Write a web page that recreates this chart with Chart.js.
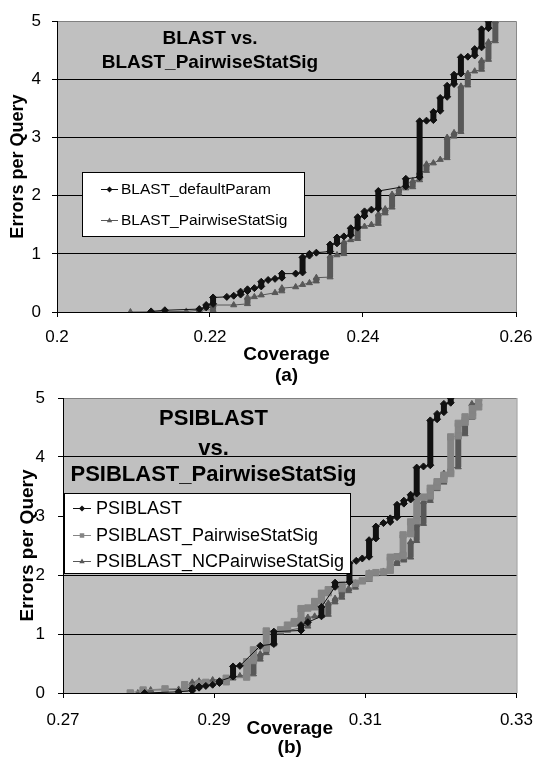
<!DOCTYPE html>
<html>
<head>
<meta charset="utf-8">
<script src="https://cdn.jsdelivr.net/npm/chart.js@4.4.1/dist/chart.umd.min.js"></script>
<style>
  body { margin: 0; background: #fff; width: 545px; height: 764px; overflow: hidden; position: relative; }
  canvas { position: absolute; left: 0; }
  #chartA { top: 0; }
  #chartB { top: 372px; }
</style>
</head>
<body>
<canvas id="chartA" width="545" height="392"></canvas>
<canvas id="chartB" width="545" height="392"></canvas>
<script>
// ---- data: [coverage, errors per query] ----
var blastDefault = [
  [0.2123, 0.01], [0.2141, 0.03], [0.2186, 0.05], [0.2195, 0.08], [0.2195, 0.12],
  [0.2204, 0.14], [0.2204, 0.25], [0.2222, 0.26], [0.2231, 0.28], [0.2240, 0.30],
  [0.2240, 0.35], [0.2249, 0.36], [0.2249, 0.39], [0.2258, 0.41], [0.2267, 0.44],
  [0.2267, 0.52], [0.2276, 0.55], [0.2285, 0.57], [0.2294, 0.59], [0.2294, 0.66],
  [0.2312, 0.66], [0.2321, 0.68], [0.2321, 0.94], [0.2330, 0.97], [0.2330, 1.00],
  [0.2339, 1.02], [0.2357, 1.04], [0.2357, 1.16], [0.2366, 1.18], [0.2366, 1.28],
  [0.2375, 1.30], [0.2384, 1.32], [0.2384, 1.44], [0.2393, 1.45], [0.2393, 1.63],
  [0.2402, 1.65], [0.2402, 1.73], [0.2411, 1.76], [0.2420, 1.78], [0.2420, 2.08],
  [0.2456, 2.16], [0.2456, 2.29], [0.2474, 2.32], [0.2474, 3.28], [0.2483, 3.29],
  [0.2492, 3.30], [0.2492, 3.44], [0.2501, 3.46], [0.2501, 3.68], [0.2510, 3.70],
  [0.2510, 3.89], [0.2519, 3.92], [0.2519, 4.08], [0.2528, 4.10], [0.2528, 4.38],
  [0.2537, 4.39], [0.2546, 4.41], [0.2546, 4.52], [0.2555, 4.55], [0.2555, 4.86],
  [0.2564, 4.88], [0.2564, 5.00]
];
var blastPairwise = [
  [0.2096, 0.00], [0.2169, 0.01], [0.2186, 0.03], [0.2204, 0.04], [0.2204, 0.12],
  [0.2231, 0.12], [0.2249, 0.14], [0.2249, 0.25], [0.2258, 0.26], [0.2267, 0.29],
  [0.2285, 0.33], [0.2294, 0.36], [0.2294, 0.41], [0.2312, 0.43], [0.2321, 0.47],
  [0.2330, 0.50], [0.2339, 0.53], [0.2339, 0.59], [0.2357, 0.60], [0.2357, 0.96],
  [0.2366, 0.98], [0.2375, 1.00], [0.2375, 1.20], [0.2384, 1.24], [0.2393, 1.26],
  [0.2393, 1.47], [0.2402, 1.47], [0.2411, 1.50], [0.2420, 1.52], [0.2420, 1.68],
  [0.2429, 1.70], [0.2429, 1.77], [0.2438, 1.80], [0.2438, 2.02], [0.2447, 2.04],
  [0.2447, 2.11], [0.2456, 2.13], [0.2465, 2.15], [0.2465, 2.25], [0.2474, 2.27],
  [0.2474, 2.40], [0.2483, 2.43], [0.2483, 2.54], [0.2492, 2.56], [0.2501, 2.62],
  [0.2510, 2.65], [0.2510, 3.00], [0.2519, 3.02], [0.2519, 3.08], [0.2528, 3.10],
  [0.2528, 3.88], [0.2537, 3.90], [0.2537, 4.10], [0.2546, 4.14], [0.2555, 4.17],
  [0.2555, 4.32], [0.2564, 4.34], [0.2564, 4.64], [0.2573, 4.66], [0.2573, 5.00]
];
var psiblast = [
  [0.2808, 0.00], [0.2853, 0.02], [0.2871, 0.04], [0.2871, 0.08], [0.2880, 0.09],
  [0.2880, 0.11], [0.2889, 0.12], [0.2898, 0.14], [0.2907, 0.17], [0.2907, 0.20],
  [0.2925, 0.28], [0.2925, 0.45], [0.2934, 0.46], [0.2961, 0.80], [0.2979, 0.83],
  [0.2979, 1.04], [0.3015, 1.06], [0.3015, 1.15], [0.3024, 1.20], [0.3042, 1.30],
  [0.3042, 1.46], [0.3060, 1.80], [0.3060, 1.87], [0.3079, 1.88], [0.3079, 2.20],
  [0.3088, 2.24], [0.3096, 2.28], [0.3105, 2.31], [0.3105, 2.59], [0.3114, 2.62],
  [0.3114, 2.82], [0.3124, 2.88], [0.3133, 2.90], [0.3133, 2.96], [0.3142, 2.98],
  [0.3142, 3.19], [0.3151, 3.21], [0.3151, 3.26], [0.3160, 3.28], [0.3160, 3.36],
  [0.3168, 3.38], [0.3168, 3.82], [0.3177, 3.84], [0.3186, 3.86], [0.3186, 4.62],
  [0.3195, 4.64], [0.3195, 4.73], [0.3204, 4.76], [0.3204, 4.90], [0.3213, 4.92],
  [0.3213, 5.00]
];
var psiPairwise = [
  [0.2789, 0.00], [0.2806, 0.05], [0.2835, 0.07], [0.2861, 0.08], [0.2861, 0.14],
  [0.2880, 0.16], [0.2889, 0.18], [0.2916, 0.19], [0.2916, 0.25], [0.2943, 0.27],
  [0.2943, 0.53], [0.2952, 0.55], [0.2952, 0.73], [0.2969, 0.76], [0.2969, 1.05],
  [0.2988, 1.07], [0.2997, 1.09], [0.2997, 1.15], [0.3006, 1.18], [0.3006, 1.21],
  [0.3015, 1.23], [0.3015, 1.43], [0.3024, 1.44], [0.3033, 1.46], [0.3033, 1.55],
  [0.3042, 1.57], [0.3042, 1.69], [0.3051, 1.70], [0.3051, 1.75], [0.3069, 1.77],
  [0.3069, 1.83], [0.3087, 1.86], [0.3096, 1.90], [0.3105, 1.95], [0.3105, 2.02],
  [0.3114, 2.04], [0.3124, 2.05], [0.3133, 2.08], [0.3133, 2.30], [0.3142, 2.31],
  [0.3150, 2.33], [0.3150, 2.68], [0.3160, 2.70], [0.3160, 2.90], [0.3168, 2.92],
  [0.3168, 3.31], [0.3177, 3.32], [0.3186, 3.34], [0.3186, 3.47], [0.3195, 3.50],
  [0.3195, 3.58], [0.3204, 3.62], [0.3204, 3.69], [0.3213, 3.72], [0.3213, 4.34],
  [0.3223, 4.36], [0.3223, 4.57], [0.3232, 4.59], [0.3232, 4.68], [0.3242, 4.70],
  [0.3242, 4.82], [0.3250, 4.85], [0.3250, 5.00]
];
var psiNCPairwise = [
  [0.2799, 0.00], [0.2816, 0.05], [0.2853, 0.06], [0.2871, 0.08], [0.2871, 0.18],
  [0.2880, 0.20], [0.2898, 0.22], [0.2925, 0.25], [0.2934, 0.29], [0.2943, 0.30],
  [0.2952, 0.32], [0.2952, 0.55], [0.2961, 0.57], [0.2961, 0.66], [0.2969, 0.68],
  [0.2969, 0.81], [0.2979, 0.83], [0.2979, 1.02], [0.2988, 1.03], [0.2997, 1.06],
  [0.3015, 1.10], [0.3024, 1.13], [0.3024, 1.28], [0.3033, 1.30], [0.3042, 1.31],
  [0.3051, 1.33], [0.3051, 1.52], [0.3060, 1.54], [0.3060, 1.60], [0.3069, 1.62],
  [0.3069, 1.72], [0.3078, 1.73], [0.3078, 1.77], [0.3087, 1.79], [0.3087, 1.86],
  [0.3096, 1.89], [0.3105, 1.92], [0.3105, 2.03], [0.3124, 2.06], [0.3133, 2.08],
  [0.3133, 2.17], [0.3142, 2.19], [0.3142, 2.23], [0.3151, 2.25], [0.3151, 2.28],
  [0.3160, 2.30], [0.3160, 2.56], [0.3168, 2.58], [0.3168, 2.85], [0.3177, 2.87],
  [0.3177, 3.24], [0.3186, 3.26], [0.3186, 3.44], [0.3195, 3.46], [0.3195, 3.55],
  [0.3204, 3.57], [0.3204, 3.72], [0.3213, 3.74], [0.3213, 3.81], [0.3223, 3.83],
  [0.3223, 4.37], [0.3232, 4.39], [0.3232, 4.65], [0.3241, 4.67], [0.3241, 4.90],
  [0.3250, 4.92], [0.3250, 5.00]
];

var namesA = ['BLAST_defaultParam', 'BLAST_PairwiseStatSig'];
var namesB = ['PSIBLAST', 'PSIBLAST_PairwiseStatSig', 'PSIBLAST_NCPairwiseStatSig'];
var titleLinesA = ['BLAST vs.', 'BLAST_PairwiseStatSig'];
var titleLinesB = ['PSIBLAST', 'vs.', 'PSIBLAST_PairwiseStatSig'];
var xTicksA = [0.2, 0.22, 0.24, 0.26];
var xLabelsA = ['0.2', '0.22', '0.24', '0.26'];
var xTicksB = [0.27, 0.29, 0.31, 0.33];
var xLabelsB = ['0.27', '0.29', '0.31', '0.33'];
var yTicks = [0, 1, 2, 3, 4, 5];
var yLabels = ['0', '1', '2', '3', '4', '5'];

var FONT = '"Liberation Sans", Arial, Helvetica, sans-serif';
Chart.defaults.font.family = FONT;
Chart.defaults.color = '#000';

function toPoints(pairs) {
  var pts = [];
  for (var i = 0; i < pairs.length; i++) {
    pts.push({ x: pairs[i][0], y: pairs[i][1] });
  }
  return pts;
}

// a run of points at the same coverage is drawn as a thick column
function barWidth(w) {
  return function (ctx) {
    return ctx.p0.parsed.x === ctx.p1.parsed.x ? w : 1;
  };
}

function series(label, pairs, color, style, radius, thick) {
  return {
    label: label,
    data: toPoints(pairs),
    borderColor: color,
    backgroundColor: color,
    borderWidth: 1,
    pointStyle: style,
    pointRadius: radius,
    pointHoverRadius: radius,
    pointBorderWidth: 1,
    pointBackgroundColor: color,
    pointBorderColor: color,
    tension: 0,
    fill: false,
    segment: { borderWidth: barWidth(thick) }
  };
}

function drawMarker(ctx, style, x, y, r) {
  ctx.beginPath();
  if (style === 'rectRot') {
    ctx.moveTo(x, y - r); ctx.lineTo(x + r, y); ctx.lineTo(x, y + r); ctx.lineTo(x - r, y);
  } else if (style === 'rect') {
    var s = r * 0.75;
    ctx.rect(x - s, y - s, 2 * s, 2 * s);
  } else {
    ctx.moveTo(x, y - r); ctx.lineTo(x + r * 0.9, y + r * 0.55); ctx.lineTo(x - r * 0.9, y + r * 0.55);
  }
  ctx.closePath();
  ctx.fill();
}

var plotDecor = {
  id: 'plotDecor',
  beforeDraw: function (chart) {
    var a = chart.chartArea, ctx = chart.ctx;
    ctx.save();
    ctx.fillStyle = '#c0c0c0';
    ctx.fillRect(a.left, a.top, a.right - a.left, a.bottom - a.top);
    ctx.strokeStyle = '#8a8a8a';
    ctx.lineWidth = 1;
    ctx.beginPath();
    ctx.moveTo(a.right + 0.5, a.top);
    ctx.lineTo(a.right + 0.5, a.bottom);
    ctx.stroke();
    ctx.restore();
  },
  afterDraw: function (chart, args, o) {
    var ctx = chart.ctx;
    ctx.save();
    // title lines inside the plot
    ctx.fillStyle = '#000';
    ctx.textAlign = 'center';
    ctx.textBaseline = 'middle';
    ctx.font = 'bold ' + o.titleSize + 'px ' + FONT;
    for (var i = 0; i < o.titleLines.length; i++) {
      ctx.fillText(o.titleLines[i], o.titleX, o.titleY[i]);
    }
    // legend box
    var b = o.legend;
    ctx.fillStyle = '#fff';
    ctx.fillRect(b.x, b.y, b.w, b.h);
    ctx.strokeStyle = '#000';
    ctx.lineWidth = 1;
    ctx.strokeRect(b.x + 0.5, b.y + 0.5, b.w, b.h);
    ctx.font = b.size + 'px ' + FONT;
    ctx.textAlign = 'left';
    chart.data.datasets.forEach(function (ds, k) {
      var y = b.rows[k];
      ctx.strokeStyle = ds.borderColor;
      ctx.beginPath();
      ctx.moveTo(b.lineX0, y + 0.5);
      ctx.lineTo(b.lineX1, y + 0.5);
      ctx.stroke();
      ctx.fillStyle = ds.borderColor;
      drawMarker(ctx, ds.pointStyle, (b.lineX0 + b.lineX1) / 2, y + 0.5, 3);
      ctx.fillStyle = '#000';
      ctx.fillText(ds.label, b.textX, y + 1);
    });
    ctx.restore();
  }
};

function chartOptions(o) {
  return {
    responsive: false,
    animation: false,
    layout: { padding: { left: 0, top: o.top, right: o.right, bottom: 0 } },
    plugins: {
      legend: { display: false },
      tooltip: { enabled: false },
      plotDecor: o.decor
    },
    scales: {
      x: {
        type: 'linear',
        min: o.xTicks[0],
        max: o.xTicks[o.xTicks.length - 1],
        afterBuildTicks: function (scale) {
          scale.ticks = o.xTicks.map(function (v) { return { value: v }; });
        },
        afterFit: function (scale) { scale.height = o.xAxisHeight; },
        grid: { drawOnChartArea: false, color: '#000', tickLength: 5 },
        border: { color: '#000', width: 1 },
        ticks: {
          padding: o.xPad, font: { size: 17 }, color: '#000', maxRotation: 0, autoSkip: false,
          callback: function (v, i) { return o.xLabels[i]; }
        },
        title: {
          display: true, text: o.xTitle, color: '#000',
          font: { size: 19, weight: 'bold', lineHeight: o.xTitleLH },
          padding: { top: 0, bottom: o.xTitlePad }
        }
      },
      y: {
        min: 0,
        max: 5,
        afterBuildTicks: function (scale) {
          scale.ticks = yTicks.map(function (v) { return { value: v }; });
        },
        afterFit: function (scale) { scale.width = o.yAxisWidth; },
        grid: {
          color: function (c) { return c.tick && c.tick.value === 5 ? '#808080' : '#000'; },
          tickColor: '#000', tickLength: 5, lineWidth: 1
        },
        border: { color: '#000', width: 1 },
        ticks: {
          padding: o.yPad, font: { size: 17 }, color: '#000',
          callback: function (v, i) { return yLabels[i]; }
        },
        title: {
          display: true, text: 'Errors per Query', color: '#000',
          font: { size: o.yTitleSize, weight: 'bold', lineHeight: 1.2 },
          padding: { top: o.yTitlePad, bottom: 0 }
        }
      }
    }
  };
}

var chartA = new Chart(document.getElementById('chartA'), {
  type: 'line',
  data: {
    datasets: [
      series(namesA[0], blastDefault, '#111111', 'rectRot', 3.5, 6),
      series(namesA[1], blastPairwise, '#585858', 'triangle', 3.5, 6)
    ]
  },
  options: chartOptions({
    top: 19, right: 29, xAxisHeight: 80, yAxisWidth: 57,
    xTicks: xTicksA, xLabels: xLabelsA, xPad: 10, yPad: 11,
    xTitle: ['Coverage', '(a)'], xTitleLH: 1.1, xTitlePad: 5.5,
    yTitleSize: 18, yTitlePad: 7,
    decor: {
      titleLines: titleLinesA, titleSize: 19, titleX: 210, titleY: [39, 63],
      legend: { x: 82, y: 172, w: 222, h: 64, rows: [189, 220], lineX0: 101, lineX1: 118, textX: 121, size: 15.5 }
    }
  }),
  plugins: [plotDecor]
});

var chartB = new Chart(document.getElementById('chartB'), {
  type: 'line',
  data: {
    datasets: [
      series(namesB[0], psiblast, '#111111', 'rectRot', 3.5, 6),
      series(namesB[1], psiPairwise, '#858585', 'rect', 4.5, 7),
      series(namesB[2], psiNCPairwise, '#585858', 'triangle', 3.5, 6)
    ]
  },
  options: chartOptions({
    top: 26, right: 20, xAxisHeight: 71, yAxisWidth: 63,
    xTicks: xTicksB, xLabels: xLabelsB, xPad: 12, yPad: 13,
    xTitle: ['Coverage', '(b)'], xTitleLH: 1.0, xTitlePad: 6.5,
    yTitleSize: 19, yTitlePad: 16,
    decor: {
      titleLines: titleLinesB, titleSize: 22, titleX: 213.5, titleY: [47, 77, 103],
      legend: { x: 64, y: 121, w: 286, h: 80, rows: [136, 163, 189], lineX0: 73, lineX1: 91, textX: 96, size: 18 }
    }
  }),
  plugins: [plotDecor]
});
</script>
</body>
</html>
